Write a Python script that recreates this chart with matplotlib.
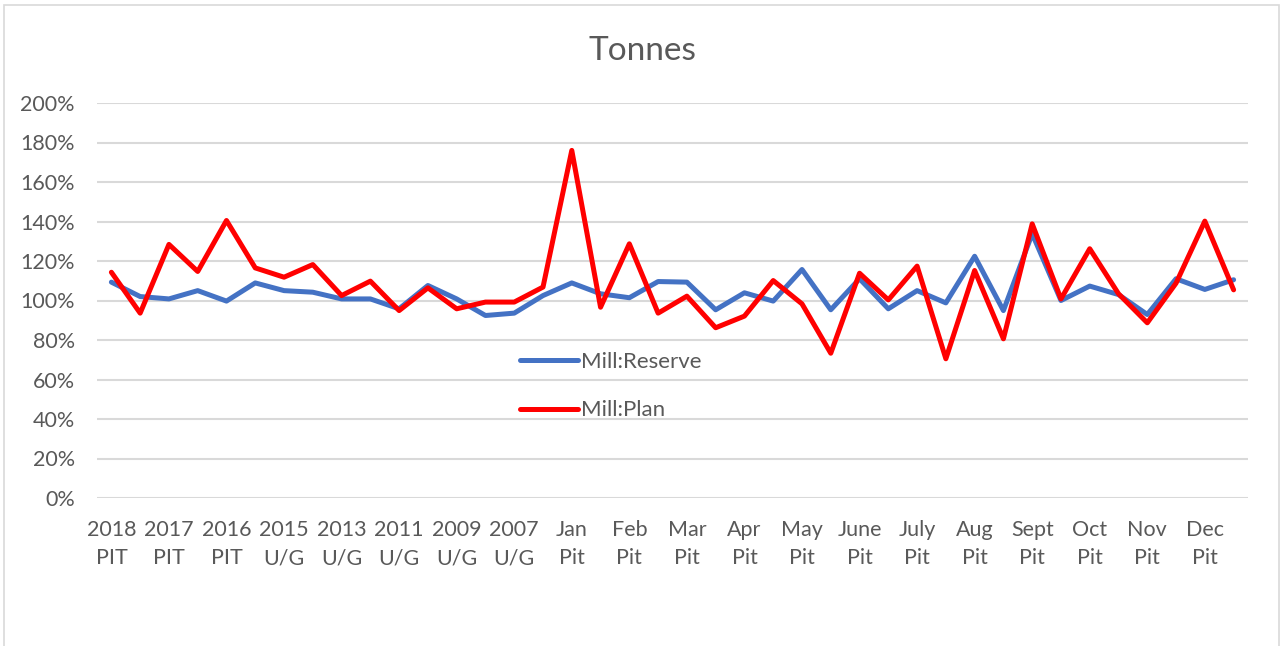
import matplotlib
matplotlib.use("Agg")
import matplotlib.pyplot as plt
import numpy as np
from matplotlib.patches import Rectangle
from matplotlib.ticker import FuncFormatter

# shown category labels (every second category is labelled)
tick_labels = ["2018\nPIT", "2017\nPIT", "2016\nPIT", "2015\nU/G", "2013\nU/G",
               "2011\nU/G", "2009\nU/G", "2007\nU/G", "Jan\nPit", "Feb\nPit",
               "Mar\nPit", "Apr\nPit", "May\nPit", "June\nPit", "July\nPit",
               "Aug\nPit", "Sept\nPit", "Oct\nPit", "Nov\nPit", "Dec\nPit"]

# values in percent, 40 periods
mill_reserve = [109.3, 102.0, 100.8, 105.0, 99.7, 108.9, 105.0, 104.2, 100.8, 100.8,
                95.8, 107.6, 100.8, 92.4, 93.6, 102.5, 108.9, 103.4, 101.4, 109.6,
                109.3, 95.3, 103.9, 99.7, 115.7, 95.3, 111.0, 95.8, 105.0, 98.8,
                122.4, 94.9, 133.8, 100.0, 107.3, 103.0, 92.9, 111.0, 105.6, 110.5]
mill_plan = [114.3, 93.6, 128.4, 114.7, 140.5, 116.5, 111.8, 118.2, 102.5, 109.8,
             94.9, 106.4, 95.8, 99.2, 99.2, 106.8, 176.0, 96.6, 128.7, 93.6,
             102.2, 86.2, 92.1, 110.1, 98.3, 73.3, 113.8, 100.3, 117.4, 70.5,
             115.2, 80.6, 138.8, 100.8, 126.2, 103.4, 88.7, 108.8, 140.2, 105.4]

plt.rcParams['font.family'] = ['Lato', 'DejaVu Sans']
txt = '#595959'

fig = plt.figure(figsize=(12.85, 6.46), dpi=100)
fig.patches.append(Rectangle((3.5/1285, -0.05), 1275.5/1285, 1.05 - 4.5/646,
                             transform=fig.transFigure, fill=False,
                             edgecolor='#d9d9d9', linewidth=1.2))

ax = fig.add_axes([97/1285, 148/646, 1151/1285, 395/646])
x = np.arange(len(mill_reserve))
ax.plot(x, mill_reserve, color='#4472C4', linewidth=3.6, label='Mill:Reserve',
        solid_joinstyle='round', solid_capstyle='round')
ax.plot(x, mill_plan, color='#FF0000', linewidth=3.6, label='Mill:Plan',
        solid_joinstyle='round', solid_capstyle='round')

ax.set_xlim(-0.5, len(x) - 0.5)
ax.set_ylim(0, 200)
ax.set_yticks(np.arange(0, 201, 20))
ax.yaxis.set_major_formatter(FuncFormatter(lambda v, p: f"{v:.0f}%"))
ax.set_xticks(x[::2])
ax.set_xticklabels(tick_labels, linespacing=1.5)
ax.tick_params(axis='both', length=0, labelsize=15.5, labelcolor=txt)
ax.tick_params(axis='y', pad=16)
ax.tick_params(axis='x', pad=16)
ax.grid(axis='y', color='#d9d9d9', linewidth=1.5)
ax.set_axisbelow(True)
for s in ax.spines.values():
    s.set_visible(False)

# chart title is centred on the whole chart box
fig.text(0.5, 1 - 51/646, 'Tonnes', fontsize=24, color=txt, ha='center', va='center')

leg = ax.legend(loc='upper left', bbox_to_anchor=(0.3675, 0.37), frameon=False,
                fontsize=16, handlelength=2.6, handletextpad=0.15,
                labelspacing=1.28, borderpad=0, borderaxespad=0)
for t in leg.get_texts():
    t.set_color(txt)

fig.savefig('out.png', dpi=100)
